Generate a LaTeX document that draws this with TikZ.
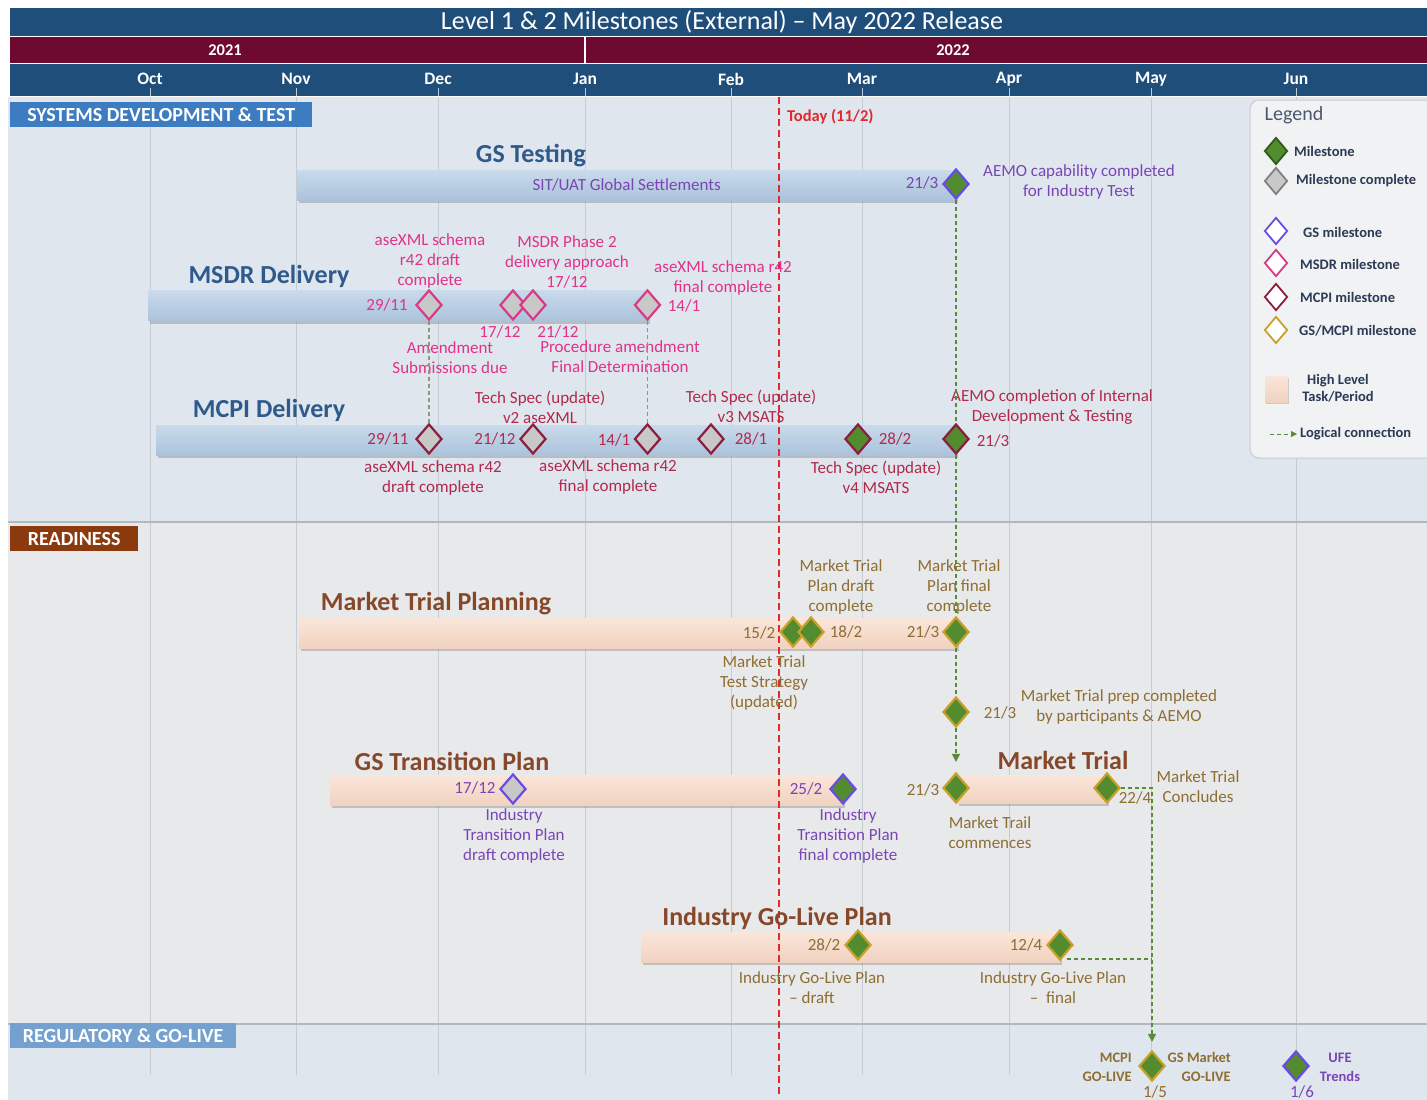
\documentclass[tikz,border=0pt]{standalone}
\usepackage{fontspec}
\setmainfont{Carlito}
\usetikzlibrary{shapes.geometric,shadows,arrows.meta,calc}
\definecolor{navy}{HTML}{1F4E7A}
\definecolor{maroonbar}{HTML}{6E0A30}
\definecolor{sysbg}{HTML}{DFE6EE}
\definecolor{rdbg}{HTML}{E8E9EB}
\definecolor{gridc}{HTML}{C6CCD3}
\definecolor{todayred}{HTML}{E0282E}
\definecolor{barblueT}{HTML}{C9DAEB}
\definecolor{barblueB}{HTML}{ABC3DB}
\definecolor{peachT}{HTML}{FAE6DA}
\definecolor{peachB}{HTML}{F1D2C0}
\definecolor{gscol}{HTML}{6A4BE6}
\definecolor{gstext}{HTML}{7A45B5}
\definecolor{msdrcol}{HTML}{D83A86}
\definecolor{msdrtext}{HTML}{E0328A}
\definecolor{mcpicol}{HTML}{8B1E3F}
\definecolor{mcpitext}{HTML}{B3294C}
\definecolor{msgreen}{HTML}{538B2F}
\definecolor{darkgreen}{HTML}{2F5A1A}
\definecolor{goldc}{HTML}{C9A02A}
\definecolor{msgrey}{HTML}{C8C8C8}
\definecolor{rdtext}{HTML}{8E6E32}
\definecolor{laneblue}{HTML}{2E5A8C}
\definecolor{lanebrown}{HTML}{87482A}
\definecolor{connc}{HTML}{5A8A3A}
\definecolor{conngrey}{HTML}{8A9A7A}
\definecolor{secblue}{HTML}{3D7CC0}
\definecolor{secbrown}{HTML}{8B3A0E}
\definecolor{seclight}{HTML}{74A1D0}
\definecolor{legtext}{HTML}{2B3A55}
\definecolor{legbg}{HTML}{F1F2F3}
\newcommand\myfs[2]{\fontsize{#1}{#2}\selectfont}
\begin{document}
\begin{tikzpicture}[x=1pt,y=-1pt,
  ann/.style={font=\myfs{17}{20}, align=center, inner sep=0pt},
  datel/.style={font=\myfs{17}{20}, inner sep=0pt},
  lane/.style={font=\bfseries\myfs{26}{28}, inner sep=0pt},
  dm/.style={diamond, minimum width=26pt, minimum height=30pt, inner sep=0pt, line width=2.2pt},
  ldm/.style={diamond, minimum width=23pt, minimum height=27pt, inner sep=0pt, line width=1.8pt},
  bluebar/.style={rectangle, inner sep=0pt, minimum height=30pt, top color=barblueT, bottom color=barblueB, draw=none,
     drop shadow={shadow xshift=1.5pt, shadow yshift=-3pt, opacity=0.4}},
  peachbar/.style={rectangle, inner sep=0pt, minimum height=30pt, top color=peachT, bottom color=peachB, draw=none,
     drop shadow={shadow xshift=1.5pt, shadow yshift=-3pt, opacity=0.4}},
  secbox/.style={rectangle, inner sep=0pt, minimum height=25pt, text=white, font=\bfseries\myfs{20}{22}, anchor=north west},
  month/.style={font=\bfseries\myfs{17.5}{20}, text=white, inner sep=0pt},
  conn/.style={draw=connc, line width=1.3pt, dash pattern=on 4pt off 3pt},
  conng/.style={draw=conngrey, line width=1.3pt, dash pattern=on 4pt off 3pt},
  arr/.style={-{Triangle[length=8pt,width=8pt]}},
  legt/.style={font=\bfseries\myfs{14.5}{17}, text=legtext, inner sep=0pt},
  small/.style={font=\bfseries\myfs{14.5}{19}, inner sep=0pt},
  todayline/.style={draw=todayred, line width=1.5pt, dash pattern=on 7pt off 4pt}
]
\useasboundingbox (0,0) rectangle (1427,1100);
\fill[white] (0,0) rectangle (1427,1100);
% header
\fill[navy] (10,8) rectangle (1427,36);
\node[font=\myfs{26}{28}, text=white, inner sep=0pt] (title) at (722,22) {Level 1 \& 2 Milestones (External) – May 2022 Release};
\fill[maroonbar] (10,37) rectangle (1427,63);
\draw[white, line width=2.5pt] (585,37) -- (585,63);
\node[font=\bfseries\myfs{16.5}{18}, text=white, inner sep=0pt] (y21) at (225,50) {2021};
\node[font=\bfseries\myfs{16.5}{18}, text=white, inner sep=0pt] (y22) at (953,50) {2022};
\fill[navy] (10,64) rectangle (1427,96);
\foreach \x/\m in {150/Oct,296/Nov,438/Dec,585/Jan,731/Feb,862/Mar,1009/Apr,1151/May,1296/Jun}{
  \node[month] (m\m) at (\x,79) {\m};
  \draw[white!70!navy, line width=0.8pt] (\x,88) -- (\x,96);
}
% section backgrounds
\fill[sysbg] (8,97) rectangle (1427,521);
\fill[rdbg] (8,522) rectangle (1427,1023);
\fill[sysbg] (8,1024) rectangle (1427,1100);
\foreach \x in {150,296,438,585,731,862,1009,1151,1296}{
  \draw[gridc, line width=0.8pt] (\x,97) -- (\x,1075);
}
\draw[gridc!90!black, line width=2pt] (8,521.5) -- (1427,521.5);
\draw[gridc!90!black, line width=2pt] (8,1023.5) -- (1427,1023.5);
% section labels
\node[secbox, fill=secblue, minimum width=302pt] (ssys) at (10,102) {SYSTEMS DEVELOPMENT \& TEST};
\node[secbox, fill=secbrown, minimum width=128pt] (srd) at (10,526) {READINESS};
\node[secbox, fill=seclight, minimum width=226pt] (sreg) at (10,1023) {REGULATORY \& GO-LIVE};
% legend
\draw[rounded corners=9pt, fill=legbg, draw=gridc, line width=1pt] (1250,100) rectangle (1440,458);
\node[font=\myfs{20}{22}, text=legtext!85!white, inner sep=0pt] (legtitle) at (1294,115) {Legend};
\node[ldm, fill=msgreen, draw=darkgreen] (ld1) at (1276,151) {};
\node[legt, anchor=west] (lt1) at (1294,151) {Milestone};
\node[ldm, fill=msgrey, draw=gray] (ld2) at (1276,181) {};
\node[legt, anchor=west] (lt2) at (1296,181) {Milestone complete};
\node[ldm, fill=white, draw=gscol] (ld3) at (1276,231) {};
\node[legt, anchor=west] (lt3) at (1303,232) {GS milestone};
\node[ldm, fill=white, draw=msdrcol] (ld4) at (1276,263) {};
\node[legt, anchor=west] (lt4) at (1300,264) {MSDR milestone};
\node[ldm, fill=white, draw=mcpicol] (ld5) at (1276,297) {};
\node[legt, anchor=west] (lt5) at (1300,297) {MCPI milestone};
\node[ldm, fill=white, draw=goldc] (ld6) at (1276,330) {};
\node[legt, anchor=west] (lt6) at (1299,331) {GS/MCPI milestone};
\node[rectangle, minimum width=23pt, minimum height=26pt, inner sep=0pt, top color=peachT, bottom color=peachB,
      drop shadow={shadow xshift=1pt, shadow yshift=-2pt, opacity=0.35}] (ld7) at (1276.5,389) {};
\node[legt, align=center] (lt7) at (1338,388.5) {High Level\\Task/Period};
\coordinate (la1) at (1270,434);
\coordinate (la2) at (1297,434);
\draw[conn, line width=1pt, -{Triangle[length=6pt,width=6pt]}] (la1) -- (la2);
\node[legt, anchor=west] (lt8) at (1300,434) {Logical connection};
% bars
\node[bluebar, minimum width=659pt, anchor=west, font=\myfs{17}{20}, text=gstext] (bgs) at (297,185) {SIT/UAT Global Settlements};
\node[bluebar, minimum width=500pt, anchor=west] (bmsdr) at (148,305.5) {};
\node[bluebar, minimum width=800pt, anchor=west] (bmcpi) at (156,440) {};
\node[peachbar, minimum width=658pt, anchor=west] (bmtp) at (299,633) {};
\node[peachbar, minimum width=513pt, anchor=west] (bgst) at (330,790) {};
\node[peachbar, minimum width=150pt, minimum height=28pt, anchor=west] (bmt) at (957,789) {};
\node[peachbar, minimum width=419pt, anchor=west] (bgl) at (641,947) {};
% today line
\coordinate (ttop) at (779,97);
\coordinate (tbot) at (779,1096);
\draw[todayline] (ttop) -- (tbot);
\node[font=\bfseries\myfs{16.5}{18}, text=todayred, anchor=west, inner sep=0pt] (tdy) at (787,117) {Today (11/2)};
% lane labels
\node[lane, text=laneblue] (lgs) at (531,156) {GS Testing};
\node[lane, text=laneblue] (lmsdr) at (269,276) {MSDR Delivery};
\node[lane, text=laneblue] (lmcpi) at (269,410) {MCPI Delivery};
\node[lane, text=lanebrown] (lmtp) at (436,604) {Market Trial Planning};
\node[lane, text=lanebrown] (lgst) at (452,761) {GS Transition Plan};
\node[lane, text=lanebrown] (lmt) at (1063,760) {Market Trial};
\node[lane, text=lanebrown] (lgl) at (777,918) {Industry Go-Live Plan};
% GS testing
\node[dm, fill=msgreen, draw=gscol] (mgs) at (956,184) {};
\node[datel, text=gstext] (dgs) at (922,183) {21/3};
\node[ann, text=gstext] (tgs) at (1079,182) {AEMO capability completed\\for Industry Test};
% MSDR
\node[dm, fill=msgrey, draw=msdrcol] (md1) at (429,305) {};
\node[dm, fill=msgrey, draw=msdrcol] (md2) at (513,305) {};
\node[dm, fill=msgrey, draw=msdrcol] (md3) at (533,305) {};
\node[dm, fill=msgrey, draw=msdrcol] (md4) at (647.5,305) {};
\node[datel, text=msdrtext] (dmd1) at (387,305) {29/11};
\node[datel, text=msdrtext] (dmd4) at (684,306) {14/1};
\node[datel, text=msdrtext] (dmd2) at (500,332) {17/12};
\node[datel, text=msdrtext] (dmd3) at (558,332) {21/12};
\node[ann, text=msdrtext] (tmd1) at (430,261) {aseXML schema\\r42 draft\\complete};
\node[ann, text=msdrtext] (tmd2) at (567,261.5) {MSDR Phase 2\\delivery approach\\17/12};
\node[ann, text=msdrtext] (tmd3) at (723,278) {aseXML schema r42\\final complete};
\node[ann, text=msdrtext] (tmd4) at (450,358) {Amendment\\Submissions due};
\node[ann, text=msdrtext] (tmd5) at (620,357) {Procedure amendment\\Final Determination};
% MCPI
\node[dm, fill=msgrey, draw=mcpicol] (mc1) at (429,439) {};
\node[dm, fill=msgrey, draw=mcpicol] (mc2) at (533,439) {};
\node[dm, fill=msgrey, draw=mcpicol] (mc3) at (647.5,439) {};
\node[dm, fill=msgrey, draw=mcpicol] (mc4) at (711,439) {};
\node[dm, fill=msgreen, draw=mcpicol] (mc5) at (858,439) {};
\node[dm, fill=msgreen, draw=mcpicol] (mc6) at (956,439) {};
\node[datel, text=mcpitext] (dmc1) at (388,439) {29/11};
\node[datel, text=mcpitext] (dmc2) at (495,439) {21/12};
\node[datel, text=mcpitext] (dmc3) at (614,440) {14/1};
\node[datel, text=mcpitext] (dmc4) at (751,439) {28/1};
\node[datel, text=mcpitext] (dmc5) at (895,439) {28/2};
\node[datel, text=mcpitext] (dmc6) at (993,441) {21/3};
\node[ann, text=mcpitext] (tmc1) at (540,407) {Tech Spec (update)\\v2 aseXML};
\node[ann, text=mcpitext] (tmc2) at (751,406) {Tech Spec (update)\\v3 MSATS};
\node[ann, text=mcpitext] (tmc3) at (1052,407) {AEMO completion of Internal\\Development \& Testing};
\node[ann, text=mcpitext] (tmc4) at (433,478) {aseXML schema r42\\draft complete};
\node[ann, text=mcpitext] (tmc5) at (608,477) {aseXML schema r42\\final complete};
\node[ann, text=mcpitext] (tmc6) at (876,477) {Tech Spec (update)\\v4 MSATS};
% Market trial planning
\node[dm, fill=msgreen, draw=goldc] (r1) at (793,632) {};
\node[dm, fill=msgreen, draw=goldc] (r2) at (811,632) {};
\node[dm, fill=msgreen, draw=goldc] (r3) at (956,632) {};
\node[datel, text=rdtext] (dr1) at (759,633) {15/2};
\node[datel, text=rdtext] (dr2) at (846,632) {18/2};
\node[datel, text=rdtext] (dr3) at (923,632) {21/3};
\node[ann, text=rdtext] (tr1) at (841,587) {Market Trial\\Plan draft\\complete};
\node[ann, text=rdtext] (tr2) at (959,587) {Market Trial\\Plan final\\complete};
\node[ann, text=rdtext] (tr3) at (764,683) {Market Trial\\Test Strategy\\(updated)};
% prep
\node[dm, fill=msgreen, draw=goldc] (rp) at (956,712) {};
\node[datel, text=rdtext] (drp) at (1000,713) {21/3};
\node[ann, text=rdtext] (trp) at (1119,707) {Market Trial prep completed\\by participants \& AEMO};
% GS transition
\node[dm, fill=msgrey, draw=gscol] (t1) at (513,789) {};
\node[dm, fill=msgreen, draw=gscol] (t2) at (843,789) {};
\node[datel, text=gstext] (dt1) at (475,788) {17/12};
\node[datel, text=gstext] (dt2) at (806,789) {25/2};
\node[ann, text=gstext] (tt1) at (514,836) {Industry\\Transition Plan\\draft complete};
\node[ann, text=gstext] (tt2) at (848,836) {Industry\\Transition Plan\\final complete};
% Market trial
\node[dm, fill=msgreen, draw=goldc] (mt1) at (956,788) {};
\node[dm, fill=msgreen, draw=goldc] (mt2) at (1107,788) {};
\node[datel, text=rdtext] (dmt1) at (923,790) {21/3};
\node[datel, text=rdtext] (dmt2) at (1135,798) {22/4};
\node[ann, text=rdtext] (tmt1) at (1198,787) {Market Trial\\Concludes};
\node[ann, text=rdtext] (tmt2) at (990,833) {Market Trail\\commences};
% Go-live plan
\node[dm, fill=msgreen, draw=goldc] (g1) at (858,945) {};
\node[dm, fill=msgreen, draw=goldc] (g2) at (1060,945) {};
\node[datel, text=rdtext] (dg1) at (824,945) {28/2};
\node[datel, text=rdtext] (dg2) at (1026,945) {12/4};
\node[ann, text=rdtext] (tg1) at (812,988) {Industry Go-Live Plan\\– draft};
\node[ann, text=rdtext] (tg2) at (1053,988) {Industry Go-Live Plan\\–\ \ final};
% regulatory
\node[dm, fill=msgreen, draw=goldc] (gl) at (1152,1066) {};
\node[small, text=rdtext, align=right, anchor=east] (tgl1) at (1132,1067) {MCPI\\GO-LIVE};
\node[small, text=rdtext, align=right, anchor=east] (tgl2) at (1231,1067) {GS Market\\GO-LIVE};
\node[datel, text=rdtext] (dgl) at (1155,1092) {1/5};
\node[dm, fill=msgreen, draw=gscol] (uf) at (1296,1066) {};
\node[small, text=gstext, align=center] (tuf) at (1340,1067) {UFE\\Trends};
\node[datel, text=gstext] (duf) at (1302,1092) {1/6};
% connectors
\draw[conn] (mgs.south) -- (mc6.north);
\draw[conn] (mc6.south) -- (r3.north);
\draw[conn] (r3.south) -- (rp.north);
\draw[conn, arr, shorten >=10pt] (rp.south) -- (mt1.north);
\draw[conng] (md1.south) -- (mc1.north);
\draw[conng] (md4.south) -- (mc3.north);
\draw[conn, arr, shorten >=8pt] (mt2.east) -- (mt2.east -| gl.north) -- (gl.north);
\draw[conn] ([yshift=-6pt]g2.south east) -- ([yshift=-6pt]g2.south east -| gl.north);
\end{tikzpicture}
\end{document}
